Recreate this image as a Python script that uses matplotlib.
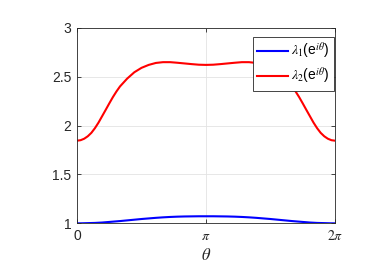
import numpy as np
import matplotlib
matplotlib.use('Agg')
import matplotlib.pyplot as plt

# theta samples in degrees (denser where the curves bend most)
theta_deg = [0, 5, 10, 15, 20, 25, 30, 35, 40, 45, 50, 55, 60, 70, 80, 90, 100, 110, 120, 130,
             140, 150, 160, 170, 180, 190, 200, 210, 220, 230, 240, 250, 260, 270, 280, 290,
             300, 305, 310, 315, 320, 325, 330, 335, 340, 345, 350, 355, 360]

lambda1 = [1.000, 1.000, 1.001, 1.002, 1.003, 1.004, 1.006, 1.008, 1.011, 1.014, 1.017, 1.020,
           1.023, 1.030, 1.037, 1.044, 1.050, 1.056, 1.061, 1.065, 1.068, 1.070, 1.071, 1.072,
           1.072, 1.072, 1.071, 1.070, 1.068, 1.065, 1.061, 1.056, 1.050, 1.044, 1.037, 1.030,
           1.023, 1.020, 1.017, 1.014, 1.011, 1.008, 1.006, 1.004, 1.003, 1.002, 1.001, 1.000, 1.000]

lambda2 = [1.845, 1.850, 1.865, 1.890, 1.925, 1.973, 2.030, 2.095, 2.160, 2.226, 2.290, 2.348,
           2.400, 2.480, 2.545, 2.590, 2.620, 2.640, 2.648, 2.648, 2.642, 2.635, 2.628, 2.622,
           2.620, 2.622, 2.628, 2.635, 2.642, 2.648, 2.648, 2.640, 2.620, 2.590, 2.545, 2.480,
           2.400, 2.348, 2.290, 2.226, 2.160, 2.095, 2.030, 1.973, 1.925, 1.890, 1.865, 1.850, 1.845]

xtick_labels = ['0', r'$\pi$', r'$2\pi$']
ytick_vals = [1, 1.5, 2, 2.5, 3]

plt.rcParams['font.family'] = ['Liberation Sans', 'DejaVu Sans']
plt.rcParams['mathtext.fontset'] = 'stix'

dark = '#262626'
theta = np.deg2rad(theta_deg)

fig = plt.figure(figsize=(3.82, 2.72), dpi=100)
ax = fig.add_axes([0.2016, 0.179, 0.6754, 0.719])

ax.plot(theta, lambda1, color=(0, 0, 1), lw=1.5, label=r'$\lambda_1$(e$^{i\theta}$)')
ax.plot(theta, lambda2, color=(1, 0, 0), lw=1.5, label=r'$\lambda_2$(e$^{i\theta}$)')

ax.set_xlim(0, 2 * np.pi)
ax.set_ylim(1, 3)
ax.set_xticks([0, np.pi, 2 * np.pi])
ax.set_xticklabels(xtick_labels)
ax.set_yticks(ytick_vals)
ax.set_yticklabels(['1', '1.5', '2', '2.5', '3'])
ax.set_xlabel(r'$\theta$', fontsize=12, color=dark, labelpad=3)

ax.grid(True, color='#e3e3e3', lw=0.6)
ax.set_axisbelow(True)
ax.tick_params(direction='in', length=3, width=0.6, colors=dark, labelsize=10,
               top=True, right=True, pad=4)
for s in ax.spines.values():
    s.set_color(dark)
    s.set_linewidth(0.6)

leg = ax.legend(loc='upper right', fontsize=10, handlelength=2.2, handletextpad=0.25,
                borderpad=0.3, labelspacing=0.25, fancybox=False, framealpha=1,
                bbox_to_anchor=(0.995, 0.955), borderaxespad=0)
leg.get_frame().set_edgecolor(dark)
leg.get_frame().set_linewidth(0.6)

fig.savefig('out.png', dpi=100)
